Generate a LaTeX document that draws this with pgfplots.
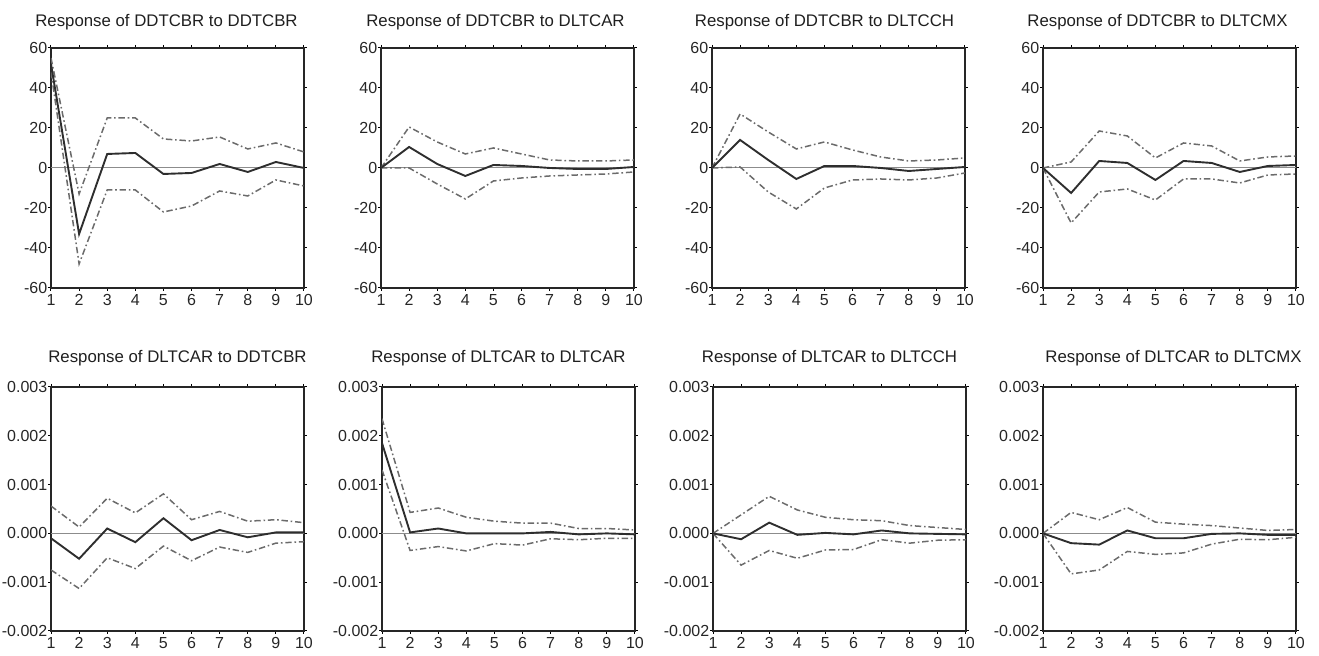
\documentclass[border=0pt]{standalone}
\usepackage{pgfplots}
\usepackage{pgfplotstable}
\pgfplotsset{compat=1.18}
\usepackage{fontspec}
\setmainfont{Liberation Sans}

\pgfplotstableread{
x r u l
1 52 55 48
2 -33 -13 -48
3 7 25 -11
4 7.5 25 -11
5 -3 14.5 -22
6 -2.5 13.5 -19
7 2 15.5 -11.5
8 -2 9.5 -14
9 3 12.5 -6
10 0 8 -9
}\tA
\pgfplotstableread{
x r u l
1 0 0 0
2 10.5 20.5 0
3 2 13 -8
4 -4 7 -15.5
5 1.5 10 -6.5
6 1 7 -5
7 0 4 -4
8 -0.5 3.5 -3.5
9 -0.5 3.5 -3
10 0.5 4 -2
}\tB
\pgfplotstableread{
x r u l
1 0 0 0
2 14 27 0.5
3 4 18 -12
4 -5.5 9.5 -20.5
5 1 13 -10
6 1 9 -6
7 0 5.5 -5.5
8 -1.5 3.5 -6
9 -0.5 4 -5
10 0.5 5 -2.5
}\tC
\pgfplotstableread{
x r u l
1 0 0 0
2 -12.5 3 -27.5
3 3.5 18.5 -12
4 2.5 16 -10.5
5 -6 5 -16
6 3.5 12.5 -5.5
7 2.5 11 -5.5
8 -2 3.5 -7.5
9 1 5.5 -3.5
10 1.5 6 -3
}\tD
\pgfplotstableread{
x r u l
1 -0.0001 0.00056 -0.00075
2 -0.00052 0.00013 -0.00113
3 0.0001 0.00072 -0.0005
4 -0.00018 0.00042 -0.00072
5 0.00031 0.00081 -0.00026
6 -0.00014 0.00028 -0.00056
7 0.00007 0.00045 -0.00028
8 -0.00008 0.00025 -0.00039
9 0.00002 0.00028 -0.0002
10 0.00002 0.00022 -0.00017
}\tE
\pgfplotstableread{
x r u l
1 0.00185 0.00235 0.0013
2 0.00002 0.00043 -0.00035
3 0.0001 0.00052 -0.00027
4 0.0 0.00033 -0.00036
5 0.0 0.00025 -0.00021
6 0.0 0.00021 -0.00024
7 0.00003 0.00021 -0.00011
8 -0.00002 0.0001 -0.00013
9 0.0 0.0001 -0.0001
10 -0.00002 0.00007 -0.0001
}\tF
\pgfplotstableread{
x r u l
1 0 0 0
2 -0.00012 0.00038 -0.00065
3 0.00022 0.00076 -0.00035
4 -0.00003 0.00048 -0.00051
5 0.00001 0.00033 -0.00034
6 -0.00002 0.00028 -0.00033
7 0.00006 0.00026 -0.00013
8 0.0 0.00016 -0.0002
9 -0.00001 0.00012 -0.00014
10 -0.00002 0.00008 -0.00013
}\tG
\pgfplotstableread{
x r u l
1 0 0 0
2 -0.0002 0.00043 -0.00083
3 -0.00023 0.00028 -0.00075
4 0.00006 0.00053 -0.00037
5 -0.0001 0.00023 -0.00043
6 -0.0001 0.00019 -0.0004
7 -0.00001 0.00016 -0.00022
8 0.0 0.00011 -0.00012
9 -0.00003 0.00006 -0.00013
10 -0.00003 0.00008 -0.00008
}\tH

\pgfplotsset{
  irf/.style={
    scale only axis, width=126.5pt,
    xmin=1, xmax=10, xtick={1,...,10},
    tick align=outside, major tick length=1.5pt,
    tick style={black, line width=0.5pt},
    axis line style={line width=1.1pt, black!85},
    ticklabel style={font=\fontsize{8}{9}\selectfont, text=black!85},
    /pgf/number format/assume math mode=true,
    yticklabel style={inner sep=0.2pt},
    xticklabel style={inner sep=1pt, yshift=-0.5pt},
    title style={font=\fontsize{8.4}{10}\selectfont, text=black!88, at={(0.5,1)}, anchor=base},
  },
  rowA/.style={irf, height=120pt, ymin=-60, ymax=60, ytick={-60,-40,...,60},
    title style={yshift=4.5pt}},
  rowB/.style={irf, height=122pt, ymin=-0.002, ymax=0.003,
    ytick={-0.002,-0.001,0,0.001,0.002,0.003},
    yticklabels={-0.002,-0.001,0.000,0.001,0.002,0.003},
    scaled y ticks=false, title style={yshift=6pt}},
  zl/.style={black!45, line width=0.5pt},
  rl/.style={black!82, line width=0.95pt},
  bl/.style={black!58, line width=0.75pt, dash pattern=on 3.2pt off 1.4pt on 0.8pt off 1.4pt},
}

\newcommand{\irfplots}[1]{%
  \addplot[zl] coordinates {(1,0) (10,0)};
  \addplot[bl] table[x=x,y=u] {#1};
  \addplot[bl] table[x=x,y=l] {#1};
  \addplot[rl] table[x=x,y=r] {#1};
}

\begin{document}
\begin{tikzpicture}
\useasboundingbox (0,0) rectangle (659.5pt,328pt);

\begin{axis}[rowA, at={(25.5pt,184pt)}, anchor=south west,
  title={Response of DDTCBR to DDTCBR}, title style={xshift=-5.5pt}]
\irfplots{\tA}
\end{axis}
\begin{axis}[rowA, at={(190.5pt,184pt)}, anchor=south west,
  title={Response of DDTCBR to DLTCAR}, title style={xshift=-6pt}]
\irfplots{\tB}
\end{axis}
\begin{axis}[rowA, at={(356pt,184pt)}, anchor=south west,
  title={Response of DDTCBR to DLTCCH}, title style={xshift=-7pt}]
\irfplots{\tC}
\end{axis}
\begin{axis}[rowA, at={(521.5pt,184pt)}, anchor=south west,
  title={Response of DDTCBR to DLTCMX}, title style={xshift=-6pt}]
\irfplots{\tD}
\end{axis}

\begin{axis}[rowB, at={(25.5pt,12.5pt)}, anchor=south west,
  title={Response of DLTCAR to DDTCBR}, title style={xshift=0pt}]
\irfplots{\tE}
\end{axis}
\begin{axis}[rowB, at={(191pt,12.5pt)}, anchor=south west,
  title={Response of DLTCAR to DLTCAR}, title style={xshift=-5pt}]
\irfplots{\tF}
\end{axis}
\begin{axis}[rowB, at={(356.5pt,12.5pt)}, anchor=south west,
  title={Response of DLTCAR to DLTCCH}, title style={xshift=-5pt}]
\irfplots{\tG}
\end{axis}
\begin{axis}[rowB, at={(521.5pt,12.5pt)}, anchor=south west,
  title={Response of DLTCAR to DLTCMX}, title style={xshift=2pt}]
\irfplots{\tH}
\end{axis}
\end{tikzpicture}
\end{document}
